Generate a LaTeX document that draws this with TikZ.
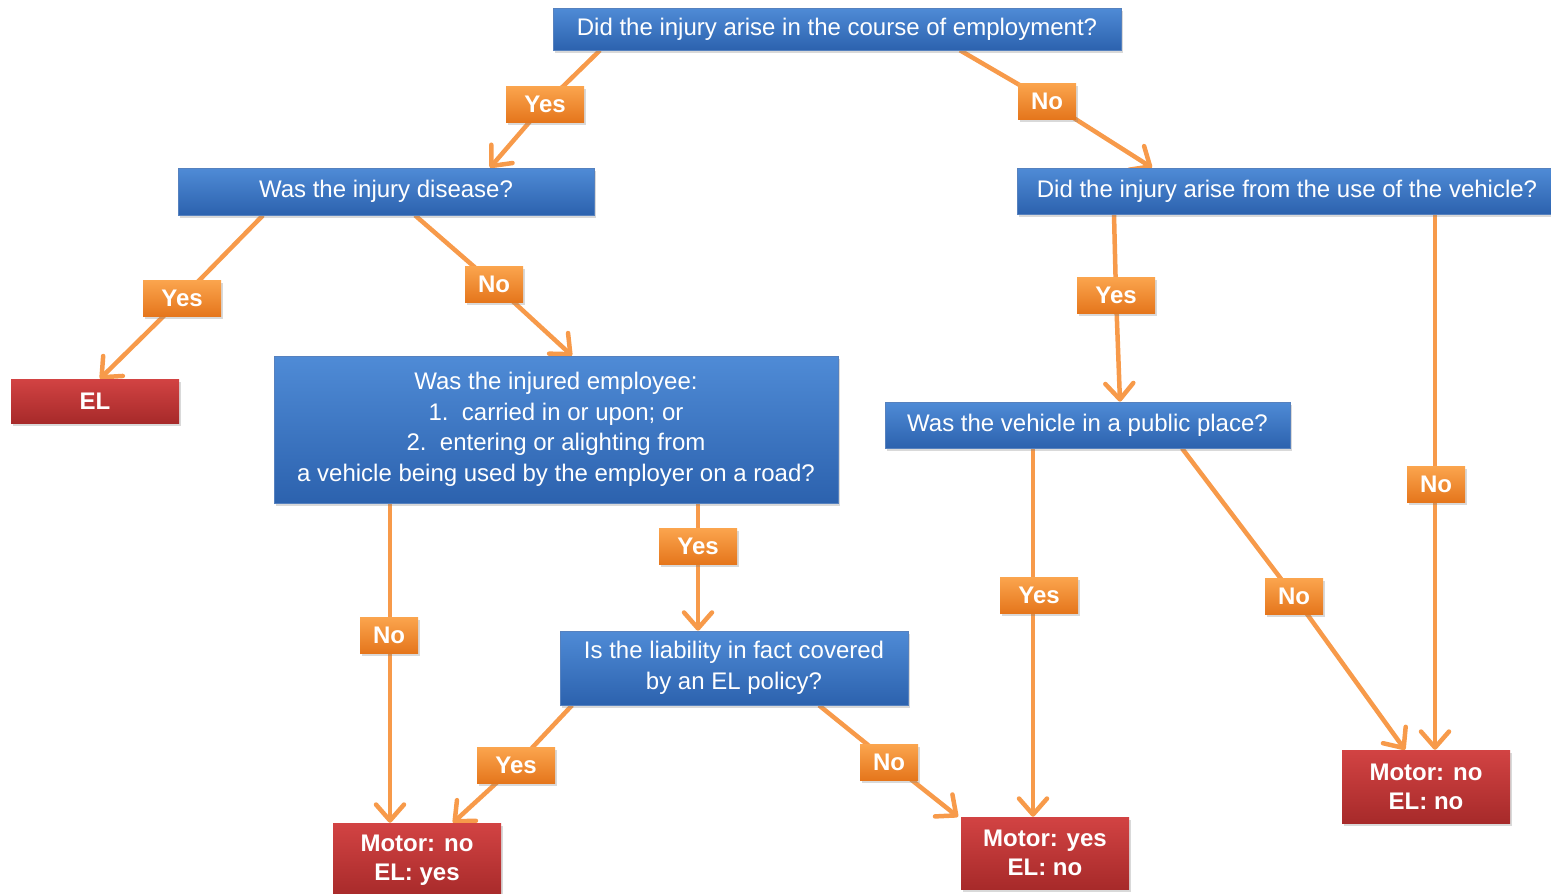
\documentclass[tikz,border=0pt]{standalone}
\usepackage{fontspec}
\setmainfont{Liberation Sans}
\usetikzlibrary{arrows.meta,shadows,backgrounds}
\definecolor{bluetop}{HTML}{4F8BD6}
\definecolor{bluebot}{HTML}{2C62AE}
\definecolor{redtop}{HTML}{D24343}
\definecolor{redbot}{HTML}{A72A2A}
\definecolor{ortop}{HTML}{FBA54E}
\definecolor{orbot}{HTML}{E5761C}
\definecolor{conncol}{HTML}{F79A4A}
\begin{document}
\begin{tikzpicture}[x=1pt,y=-1pt,
 box/.style={rectangle, inner sep=0pt, text=white, align=center,
   font=\fontsize{24}{30.5}\selectfont,
   drop shadow={opacity=0.3, shadow xshift=2pt, shadow yshift=-3pt}},
 qbox/.style={box, top color=bluetop, bottom color=bluebot, draw=bluebot!80!white, line width=0.6pt},
 rbox/.style={box, top color=redtop, bottom color=redbot, minimum width=168pt,
   font=\bfseries\fontsize{24}{29}\selectfont},
 lab/.style={box, top color=ortop, bottom color=orbot, minimum height=36pt,
   font=\bfseries\fontsize{24}{29}\selectfont},
 yeslab/.style={lab, minimum width=78pt},
 nolab/.style={lab, minimum width=58pt},
 conn/.style={draw=conncol, line width=4.5pt, line join=round,
   -{Straight Barb[length=16pt,width=28pt,round]}},
]
\useasboundingbox (0,0) rectangle (1551,894);

% question boxes
\node[qbox, minimum width=568pt, minimum height=42pt] (q1) at (837,29) {Did the injury arise in the course of employment?};
\node[qbox, minimum width=416pt, minimum height=47pt] (q2) at (386,191.5) {Was the injury disease?};
\node[qbox, minimum width=540pt, minimum height=46pt] (q3) at (1287,191) {Did the injury arise from the use of the vehicle?};
\node[qbox, minimum width=564pt, minimum height=147pt] (q4) at (556,429.5) {Was the injured employee:\\1.\ \ carried in or upon; or\\2.\ \ entering or alighting from\\a vehicle being used by the employer on a road?};
\node[qbox, minimum width=405pt, minimum height=46pt] (q5) at (1087.5,425) {Was the vehicle in a public place?};
\node[qbox, minimum width=348pt, minimum height=74pt] (q6) at (734,668) {Is the liability in fact covered\\by an EL policy?};

% result boxes
\node[rbox, minimum height=44pt] (el) at (95,401) {EL};
\node[rbox, minimum height=74pt] (r1) at (417,860) {Motor: no\\EL: yes};
\node[rbox, minimum height=72pt] (r2) at (1045,853) {Motor: yes\\EL: no};
\node[rbox, minimum height=73pt] (r3) at (1426,786.5) {Motor: no\\EL: no};

% labels
\node[yeslab] (y1) at (545,104) {Yes};
\node[nolab]  (n1) at (1047,101) {No};
\node[yeslab] (y2) at (182,298) {Yes};
\node[nolab]  (n2) at (494,284) {No};
\node[yeslab] (y3) at (1116,295) {Yes};
\node[nolab]  (n3) at (1436,484) {No};
\node[nolab]  (n4) at (389,635) {No};
\node[yeslab] (y4) at (698,546) {Yes};
\node[yeslab] (y5) at (1039,595) {Yes};
\node[nolab]  (n5) at (1294,596) {No};
\node[yeslab] (y6) at (516,765) {Yes};
\node[nolab]  (n6) at (889,762) {No};

% connectors
\begin{scope}[on background layer]
\draw[conn] (q1.south -| 600,0) -- (y1.center) -- (q2.north -| 490,0);
\draw[conn] (q1.south -| 960,0) -- (n1.center) -- (q3.north -| 1152,0);
\draw[conn] (q2.south -| 263,0) -- (y2.center) -- (el.north -| 100,0);
\draw[conn] (q2.south -| 415,0) -- (n2.center) -- (q4.north -| 572,0);
\draw[conn] (q3.south -| 1114,0) -- (y3.center) -- (q5.north -| 1120,0);
\draw[conn] (q3.south -| 1435,0) -- (r3.north -| 1435,0);
\draw[conn] (q4.south -| 390,0) -- (r1.north -| 390,0);
\draw[conn] (q4.south -| 698,0) -- (q6.north -| 698,0);
\draw[conn] (q5.south -| 1033,0) -- (r2.north -| 1033,0);
\draw[conn] (q5.south -| 1182,0) -- (n5.center) -- (r3.north -| 1405,0);
\draw[conn] (q6.south -| 572,0) -- (y6.center) -- (r1.north -| 453,0);
\draw[conn] (q6.south -| 819,0) -- (n6.center) -- (r2.north -| 958,0);
\end{scope}
\end{tikzpicture}
\end{document}
